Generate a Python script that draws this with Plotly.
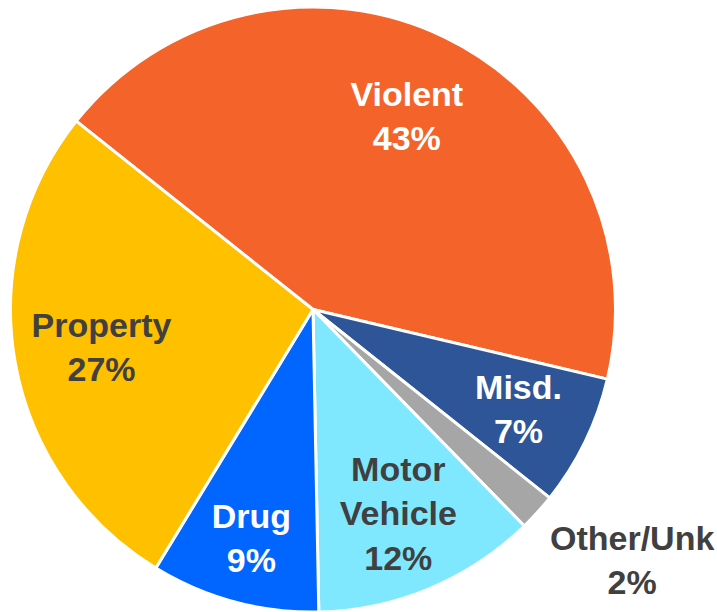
import plotly.graph_objects as go

categories = ["Violent", "Misd.", "Other/Unk", "Motor<br>Vehicle", "Drug", "Property"]
values = [43, 7, 2, 12, 9, 27]
colors = ["#F4632A", "#2E5597", "#A6A6A6", "#7FE8FF", "#0066FF", "#FFC000"]
text_colors = ["#FFFFFF", "#FFFFFF", "#404040", "#404040", "#FFFFFF", "#404040"]

domain = dict(x=[10/717, 616/717], y=[0, 1])
font_family = "Liberation Sans, Arial, sans-serif"
rotation = -51.5

fig = go.Figure()
fig.add_trace(go.Pie(
    labels=categories, values=values, sort=False, direction="clockwise",
    rotation=rotation,
    marker=dict(colors=colors, line=dict(color="#FFFFFF", width=3)),
    textinfo="none", domain=domain, showlegend=False,
    hoverinfo="label+percent",
))

total = sum(values)
label_text = ["<b>%s<br>%d%%</b>" % (c, round(100 * v / total)) for c, v in zip(categories, values)]


def add_label_ring(show, hole, dom):
    fig.add_trace(go.Pie(
        labels=categories, values=values, sort=False, direction="clockwise",
        rotation=rotation, hole=hole,
        marker=dict(colors=["rgba(0,0,0,0)"] * len(values), line=dict(width=0)),
        text=[t if i in show else "" for i, t in enumerate(label_text)],
        textinfo="text",
        textposition=["inside" if i in show else "none" for i in range(len(values))],
        insidetextorientation="horizontal",
        textfont=dict(family=font_family, size=34, color=text_colors),
        domain=dom, showlegend=False, hoverinfo="skip",
    ))


add_label_ring([0, 3, 4, 5], 0.42, domain)   # Violent, Motor Vehicle, Drug, Property
# Misd. label sits a little closer to the centre
add_label_ring([1], 0.30, dict(x=[(313 - 279) / 717, (313 + 279) / 717], y=[0.04, 0.96]))

# small slice label sits outside the pie
fig.add_annotation(
    x=632 / 717, y=1 - 559 / 612, xref="paper", yref="paper",
    text=label_text[2], showarrow=False, xanchor="center", yanchor="middle",
    font=dict(family=font_family, size=34, color=text_colors[2]),
)

fig.update_layout(
    width=717, height=612,
    margin=dict(l=0, r=0, t=7, b=0, autoexpand=False),
    paper_bgcolor="white",
    plot_bgcolor="white",
    uniformtext=dict(minsize=34, mode="show"),
)

fig.write_html("out.html", config={"displayModeBar": False},
               post_script="document.body.style.margin='0';document.documentElement.style.overflow='hidden';")
